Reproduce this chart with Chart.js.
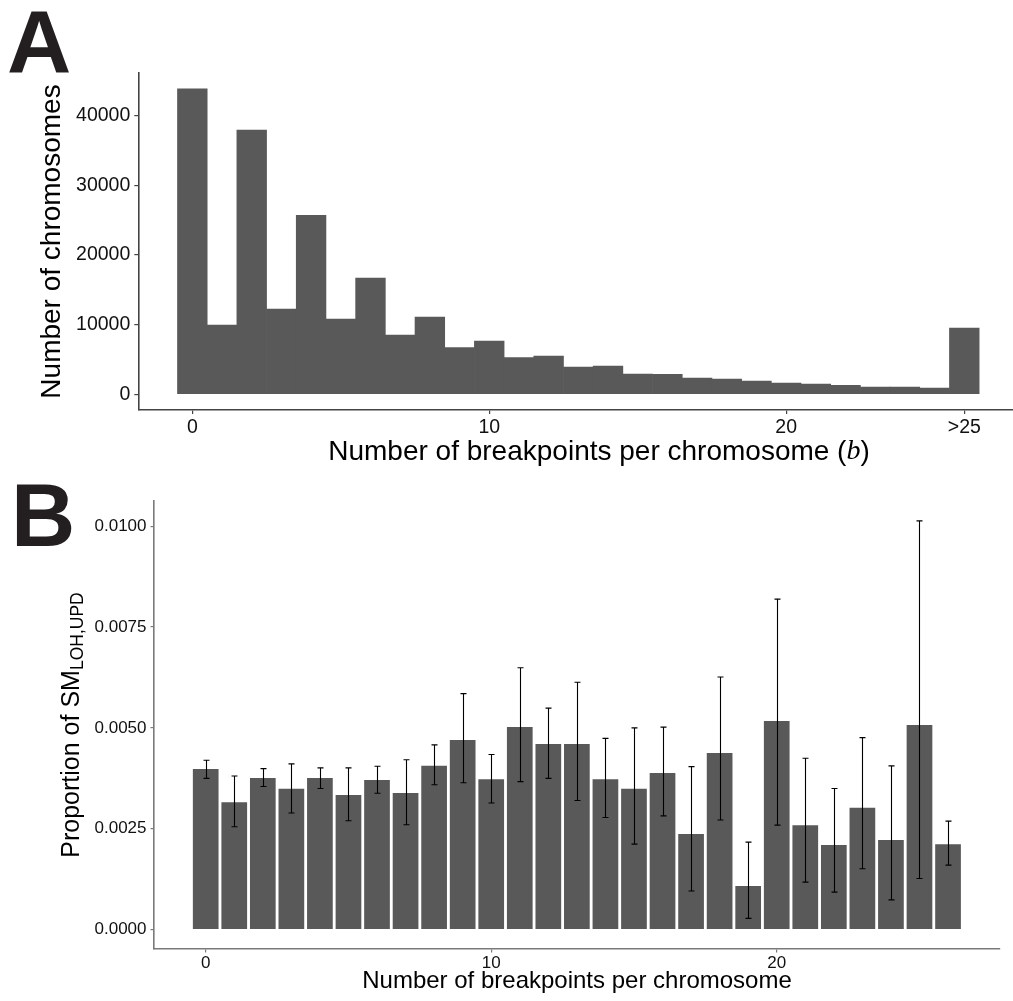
<!DOCTYPE html>
<html>
<head>
<meta charset="utf-8">
<script src="https://cdn.jsdelivr.net/npm/chart.js@4.4.1/dist/chart.umd.min.js"></script>
<style>
  html, body { margin: 0; padding: 0; background: #fff; overflow: hidden; }
  .panel { position: absolute; left: 0; }
</style>
</head>
<body>
<div class="panel" style="top:0"><canvas id="chartA" width="1013" height="480"></canvas></div>
<div class="panel" style="top:480px"><canvas id="chartB" width="1013" height="521"></canvas></div>
<script>
// Panel A: histogram of breakpoints per chromosome
const aBins = [0, 1, 2, 3, 4, 5, 6, 7, 8, 9, 10, 11, 12, 13, 14, 15, 16, 17, 18, 19, 20, 21, 22, 23, 24, 25, 26];
const aCounts = [43900, 9960, 37970, 12260, 25720, 10820, 16710, 8520, 11110, 6700, 7660, 5260, 5500, 3920,
                 4070, 2920, 2870, 2340, 2200, 1910, 1620, 1480, 1290, 1050, 1050, 900, 9530];
const aXTicks = [0, 10, 20, 26];
const aXLabels = ['0', '10', '20', '>25'];
const aYTicks = [0, 10000, 20000, 30000, 40000];

// Panel B: proportion of SM LOH,UPD with error bars
const bBins = [0, 1, 2, 3, 4, 5, 6, 7, 8, 9, 10, 11, 12, 13, 14, 15, 16, 17, 18, 19, 20, 21, 22, 23, 24, 25, 26];
const bProp = [0.00398, 0.00316, 0.00376, 0.00349, 0.00376, 0.00334, 0.00371, 0.00339, 0.00406, 0.00470,
               0.00373, 0.00502, 0.00460, 0.00460, 0.00373, 0.00349, 0.00388, 0.00237, 0.00438, 0.00108,
               0.00517, 0.00259, 0.00210, 0.00302, 0.00222, 0.00507, 0.00212];
const bLow = [0.00375, 0.00255, 0.00355, 0.00289, 0.00350, 0.00270, 0.00338, 0.00260, 0.00359, 0.00364,
              0.00314, 0.00367, 0.00375, 0.00320, 0.00278, 0.00212, 0.00282, 0.00096, 0.00272, 0.00028,
              0.00259, 0.00118, 0.00093, 0.00151, 0.00074, 0.00127, 0.00160];
const bHigh = [0.00420, 0.00381, 0.00399, 0.00411, 0.00401, 0.00401, 0.00405, 0.00421, 0.00458, 0.00585,
               0.00434, 0.00649, 0.00549, 0.00613, 0.00474, 0.00500, 0.00502, 0.00404, 0.00626, 0.00217,
               0.00819, 0.00425, 0.00350, 0.00476, 0.00406, 0.01013, 0.00269];
const bXTicks = [0, 10, 20];
const bYTicks = [0, 0.0025, 0.005, 0.0075, 0.01];

const SANS = '"Liberation Sans", Arial, Helvetica, sans-serif';
const BAR_COLOR = '#595959';

// draws a run of text pieces with different fonts, centred on (cx, cy)
function drawRun(ctx, parts, cx, cy, rotate) {
    ctx.save();
    ctx.translate(cx, cy);
    if (rotate) ctx.rotate(-Math.PI / 2);
    ctx.textBaseline = 'middle';
    ctx.textAlign = 'left';
    ctx.fillStyle = '#000';
    let total = 0;
    parts.forEach(p => { ctx.font = p.font; p.w = ctx.measureText(p.text).width; total += p.w; });
    let x = -total / 2;
    parts.forEach(p => {
        ctx.font = p.font;
        ctx.fillText(p.text, x, p.dy || 0);
        x += p.w;
    });
    ctx.restore();
}

function panelLetter(ctx, letter, x, y) {
    ctx.save();
    ctx.font = 'bold 89px ' + SANS;
    ctx.fillStyle = '#231f20';
    ctx.textBaseline = 'alphabetic';
    ctx.fillText(letter, x, y);
    ctx.restore();
}

const titlesA = {
    id: 'titlesA',
    afterDraw(chart) {
        const ctx = chart.ctx;
        panelLetter(ctx, 'A', 7, 73);
        drawRun(ctx, [{ text: 'Number of chromosomes', font: '28px ' + SANS }], 52, 241.5, true);
        drawRun(ctx, [
            { text: 'Number of breakpoints per chromosome (', font: '28px ' + SANS },
            { text: 'b', font: 'italic 28px "Liberation Serif", "DejaVu Serif", serif' },
            { text: ')', font: '28px ' + SANS }
        ], 599, 452, false);
    }
};

const titlesB = {
    id: 'titlesB',
    afterDraw(chart) {
        const ctx = chart.ctx;
        panelLetter(ctx, 'B', 11, 66);
        drawRun(ctx, [
            { text: 'Proportion of SM', font: '25px ' + SANS },
            { text: 'LOH,UPD', font: '17.5px ' + SANS, dy: 6 }
        ], 72, 245, true);
        drawRun(ctx, [{ text: 'Number of breakpoints per chromosome', font: '24px ' + SANS }], 577, 501, false);
    }
};

const errorBars = {
    id: 'errorBars',
    afterDatasetsDraw(chart) {
        const { ctx, scales: { x, y } } = chart;
        ctx.save();
        ctx.strokeStyle = '#000';
        ctx.lineWidth = 1.1;
        bBins.forEach((b, i) => {
            const px = Math.round(x.getPixelForValue(b)) + 0.5;
            const lo = y.getPixelForValue(bLow[i]);
            const hi = y.getPixelForValue(bHigh[i]);
            ctx.beginPath();
            ctx.moveTo(px, lo); ctx.lineTo(px, hi);
            ctx.moveTo(px - 3, lo); ctx.lineTo(px + 3, lo);
            ctx.moveTo(px - 3, hi); ctx.lineTo(px + 3, hi);
            ctx.stroke();
        });
        ctx.restore();
    }
};

new Chart(document.getElementById('chartA'), {
    type: 'bar',
    data: {
        datasets: [{
            data: aBins.map((b, i) => ({ x: b, y: aCounts[i] })),
            backgroundColor: BAR_COLOR,
            borderWidth: 0,
            barPercentage: 1,
            categoryPercentage: 1
        }]
    },
    options: {
        responsive: false,
        animation: false,
        layout: { padding: { top: 73, left: 0, right: 0, bottom: 0 } },
        plugins: { legend: { display: false }, tooltip: { enabled: false } },
        scales: {
            x: {
                type: 'linear',
                offset: false,
                min: -1.82,
                max: 27.64,
                afterBuildTicks: s => { s.ticks = aXTicks.map(v => ({ value: v })); },
                afterFit: s => { s.height = 70; },
                ticks: {
                    callback: v => aXLabels[aXTicks.indexOf(v)],
                    font: { family: SANS, size: 19.5 },
                    color: '#111',
                    padding: 2,
                    maxRotation: 0,
                    autoSkip: false
                },
                grid: { drawOnChartArea: false, offset: false, color: '#444', tickLength: 4, lineWidth: 1.2 },
                border: { display: true, color: '#444', width: 1.6 }
            },
            y: {
                min: -2256,
                max: 46164,
                afterBuildTicks: s => { s.ticks = aYTicks.map(v => ({ value: v })); },
                afterFit: s => { s.width = 138.3; },
                ticks: {
                    callback: v => String(v),
                    font: { family: SANS, size: 19.5 },
                    color: '#111',
                    padding: 4
                },
                grid: { drawOnChartArea: false, color: '#444', tickLength: 4, lineWidth: 1.2 },
                border: { display: true, color: '#444', width: 1.6 }
            }
        }
    },
    plugins: [titlesA]
});

new Chart(document.getElementById('chartB'), {
    type: 'bar',
    data: {
        datasets: [{
            data: bBins.map((b, i) => ({ x: b, y: bProp[i] })),
            backgroundColor: BAR_COLOR,
            borderWidth: 0,
            barPercentage: 0.9,
            categoryPercentage: 1
        }]
    },
    options: {
        responsive: false,
        animation: false,
        layout: { padding: { top: 21, left: 0, right: 13, bottom: 0 } },
        plugins: { legend: { display: false }, tooltip: { enabled: false } },
        scales: {
            x: {
                type: 'linear',
                offset: false,
                min: -1.811,
                max: 27.82,
                afterBuildTicks: s => { s.ticks = bXTicks.map(v => ({ value: v })); },
                afterFit: s => { s.height = 52; },
                ticks: {
                    font: { family: SANS, size: 17 },
                    color: '#111',
                    padding: 1,
                    maxRotation: 0,
                    autoSkip: false
                },
                grid: { drawOnChartArea: false, offset: false, color: '#7a7a7a', tickLength: 3.5, lineWidth: 1.2 },
                border: { display: true, color: '#7a7a7a', width: 1.6 }
            },
            y: {
                min: -0.000478,
                max: 0.010622,
                afterBuildTicks: s => { s.ticks = bYTicks.map(v => ({ value: v })); },
                afterFit: s => { s.width = 154; },
                ticks: {
                    callback: v => v.toFixed(4),
                    font: { family: SANS, size: 17 },
                    color: '#111',
                    padding: 4
                },
                grid: { drawOnChartArea: false, color: '#7a7a7a', tickLength: 3.5, lineWidth: 1.2 },
                border: { display: true, color: '#7a7a7a', width: 1.6 }
            }
        }
    },
    plugins: [errorBars, titlesB]
});
</script>
</body>
</html>
